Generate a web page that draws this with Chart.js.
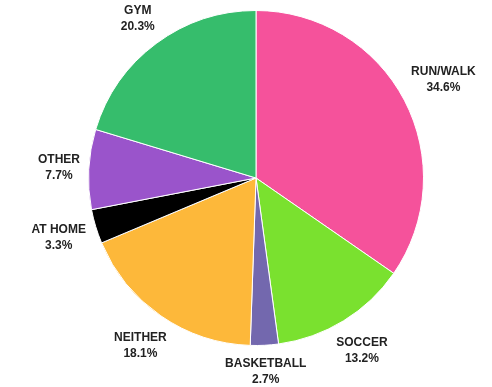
<!DOCTYPE html>
<html>
<head>
<meta charset="utf-8">
<script src="https://cdn.jsdelivr.net/npm/chart.js@4"></script>
<style>
    html, body { margin: 0; padding: 0; background: #fff; }
    #wrap { width: 492px; height: 387px; position: relative; }
</style>
</head>
<body>
<div id="wrap"><canvas id="graf1"></canvas></div>
<script>
// atividades (sentido horário a partir do topo)
var atividades = ["RUN/WALK", "SOCCER", "BASKETBALL", "NEITHER", "AT HOME", "OTHER", "GYM"];
var percentuais = [34.6, 13.2, 2.7, 18.1, 3.3, 7.7, 20.3];
var cores = ["#F5529B", "#7AE12F", "#7368AE", "#FDB83A", "#000000", "#9A54CB", "#36BD6C"];

// rótulos fora da fatia: nome + percentual
var rotulosExternos = {
    id: 'rotulosExternos',
    afterDatasetsDraw: function (chart) {
        var ctx = chart.ctx;
        var meta = chart.getDatasetMeta(0);
        ctx.save();
        ctx.font = 'bold 12px "Liberation Sans", Arial, sans-serif';
        ctx.fillStyle = '#222';
        ctx.textAlign = 'center';
        ctx.textBaseline = 'middle';
        meta.data.forEach(function (arc, i) {
            var p = arc.getProps(['x', 'y', 'startAngle', 'endAngle', 'outerRadius'], true);
            var meio = (p.startAngle + p.endAngle) / 2;
            var ux = Math.cos(meio), uy = Math.sin(meio);
            var linha1 = atividades[i];
            var linha2 = percentuais[i].toFixed(1) + '%';
            var w = Math.max(ctx.measureText(linha1).width, ctx.measureText(linha2).width);
            var h = 32;
            var d = p.outerRadius + 8 + Math.abs(ux) * w / 2 + Math.abs(uy) * h / 2;
            var cx = p.x + ux * d, cy = p.y + uy * d;
            ctx.fillText(linha1, cx, cy - 8);
            ctx.fillText(linha2, cx, cy + 8);
        });
        ctx.restore();
    }
};

function createPieChart() {
    var canvas = document.getElementById('graf1');
    new Chart(canvas, {
        type: 'pie',
        data: {
            labels: atividades,
            datasets: [{
                data: percentuais,
                backgroundColor: cores,
                borderColor: '#ffffff',
                borderWidth: 1
            }]
        },
        options: {
            responsive: true,
            maintainAspectRatio: false,
            animation: false,
            layout: { padding: { top: 10, bottom: 41, left: 88, right: 68 } },
            plugins: {
                legend: { display: false },
                tooltip: { enabled: false }
            }
        },
        plugins: [rotulosExternos]
    });
}

document.addEventListener('DOMContentLoaded', function () {
    createPieChart();
});
</script>
</body>
</html>
